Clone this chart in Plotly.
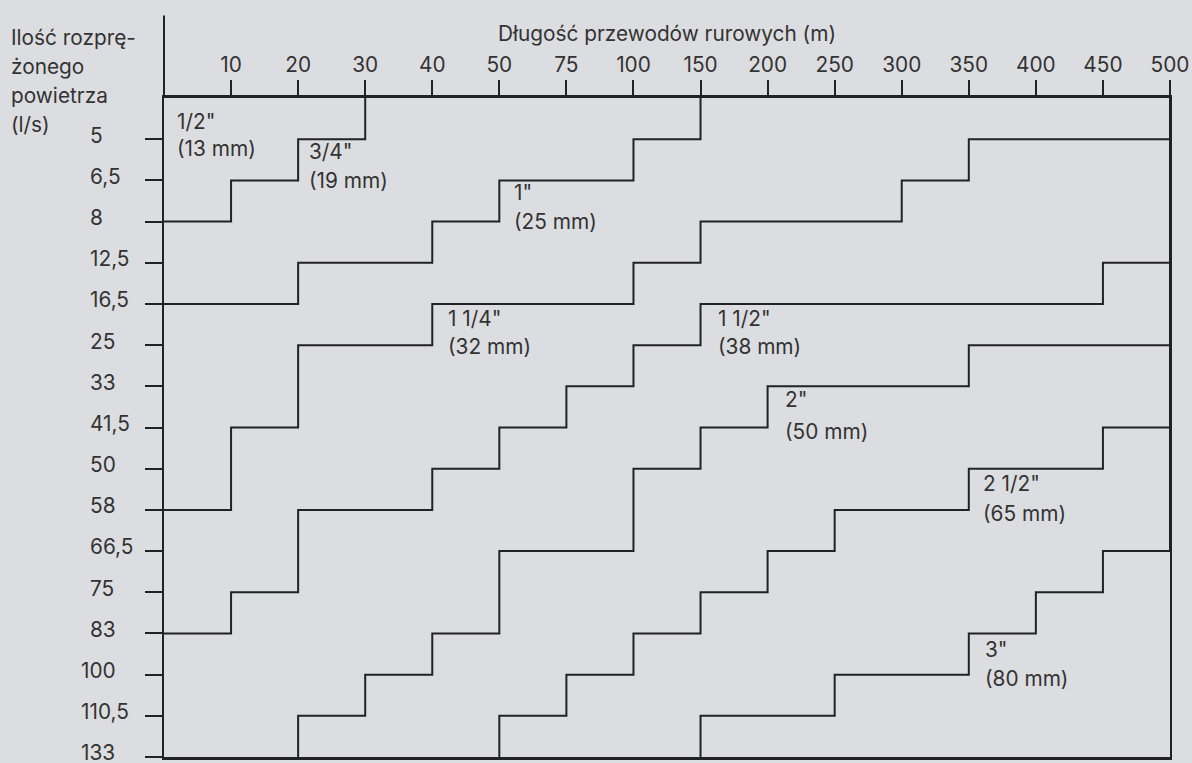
import plotly.graph_objects as go

# ---- data -------------------------------------------------------------
# pipe length axis (m) and expanded-air flow axis (l/s); "0" is the origin
lengths = ["10", "20", "30", "40", "50", "75", "100", "150", "200", "250",
           "300", "350", "400", "450", "500"]
flows = ["5", "6,5", "8", "12,5", "16,5", "25", "33", "41,5", "50", "58",
         "66,5", "75", "83", "100", "110,5", "133"]

# maximum pipe length (m) for each flow band (band i lies between flow row i and i+1)
limit_13mm = ["30", "20", "10"]
limit_19mm = ["150", "100", "50", "40", "20"]
limit_25mm = ["500", "350", "300", "150", "100", "40", "20", "20", "10", "10"]
limit_32mm = ["500", "500", "500", "500", "450", "150", "100", "75", "50", "40",
              "20", "20", "10"]
limit_38mm = ["500", "500", "500", "500", "500", "500", "350", "200", "150", "100",
              "100", "50", "50", "40", "30", "20"]
limit_50mm = ["500", "500", "500", "500", "500", "500", "500", "500", "450", "350",
              "250", "200", "150", "100", "75", "50"]
limit_65mm = ["500", "500", "500", "500", "500", "500", "500", "500", "500", "500",
              "500", "450", "400", "350", "250", "150"]

pipe_names = ['1/2"', '3/4"', '1"', '1 1/4"', '1 1/2"', '2"', '2 1/2"', '3"']
pipe_mm = ["(13 mm)", "(19 mm)", "(25 mm)", "(32 mm)", "(38 mm)", "(50 mm)",
           "(65 mm)", "(80 mm)"]

x_title = "Długość przewodów rurowych (m)"
y_title = ["Ilość rozprę-", "żonego", "powietrza", "(l/s)"]

# ---- style ------------------------------------------------------------
BG = "#dcdde0"
INK = "#222222"
TXT = "#333333"
FONT = "Inter"
FS = 20.8

xcats = ["0"] + lengths
ycats = ["0"] + flows

W, H = 1192, 763
L, R, T, B = 164, 20, 98, 3
pw, ph = W - L - R, H - T - B


def px2x(px):
    return (px - L) / pw * (len(xcats) - 1)


def py2y(py):
    return (py - T) / ph * (len(ycats) - 1)


def px2paper(px):
    return (px - L) / pw


def py2paper(py):
    return 1 - (py - T) / ph


def step_path(limits):
    xs, ys = [], []
    for i, lim in enumerate(limits):
        xs += [lim, lim]
        ys += [ycats[i], ycats[i + 1]]
    if len(limits) < len(flows):
        xs.append("0")
        ys.append(ycats[len(limits)])
    return xs, ys


fig = go.Figure()
for lim in [limit_13mm, limit_19mm, limit_25mm, limit_32mm, limit_38mm,
            limit_50mm, limit_65mm]:
    xs, ys = step_path(lim)
    fig.add_trace(go.Scatter(x=xs, y=ys, mode="lines",
                             line=dict(color=INK, width=2),
                             hoverinfo="skip", showlegend=False))

font = dict(family=FONT, size=FS, color=TXT)
ann = []
# pipe size labels (pixel-estimated placement)
label_pos = [(175, 122, 149), (307, 152, 181), (513, 193, 222), (447, 319, 348),
             (717, 319, 348), (784, 401, 433), (983, 485, 515), (985, 652, 681)]
for name, mm, (lx, y1, y2) in zip(pipe_names, pipe_mm, label_pos):
    ann.append(dict(x=px2x(lx), y=py2y(y1), text=name, xanchor="left",
                    yanchor="middle", showarrow=False, font=font))
    ann.append(dict(x=px2x(lx), y=py2y(y2), text=mm, xanchor="left",
                    yanchor="middle", showarrow=False, font=font))

# flow tick labels (left of the plot -> paper x, data y)
for i, f in enumerate(flows):
    whole = f.split(",")[0]
    lx = 79 if len(whole) >= 3 else 88
    ann.append(dict(xref="paper", x=px2paper(lx), y=i + 1 - 0.1, text=f,
                    xanchor="left", yanchor="middle", showarrow=False,
                    font=font))

# axis titles
ann.append(dict(xref="paper", yref="paper", x=0.5, y=py2paper(33),
                text=x_title, xanchor="center", yanchor="middle",
                showarrow=False, font=font))
for j, t in enumerate(y_title):
    ann.append(dict(xref="paper", yref="paper", x=px2paper(9),
                    y=py2paper(37 + 29.3 * j), text=t,
                    xanchor="left", yanchor="middle", showarrow=False,
                    font=font))

fig.update_layout(
    width=W, height=H,
    margin=dict(l=L, r=R, t=T, b=B, pad=0),
    paper_bgcolor=BG, plot_bgcolor=BG,
    annotations=ann,
    showlegend=False,
    xaxis=dict(type="category", categoryorder="array", categoryarray=xcats,
               range=[0, len(xcats) - 1], side="top",
               tickmode="array", tickvals=lengths, ticktext=lengths,
               ticks="outside", ticklen=15, tickwidth=2, tickcolor=INK,
               showline=True, linewidth=2.5, linecolor=INK, mirror=True,
               showgrid=False, zeroline=False,
               tickfont=font, fixedrange=True),
    yaxis=dict(type="category", categoryorder="array", categoryarray=ycats,
               range=[len(ycats) - 1, 0],
               tickmode="array", tickvals=flows, showticklabels=False,
               ticks="outside", ticklen=17, tickwidth=2, tickcolor=INK,
               showline=True, linewidth=2, linecolor=INK, mirror=True,
               showgrid=False, zeroline=False, fixedrange=True),
)

# left axis extension above the length scale
fig.add_shape(type="line", xref="paper", yref="paper", x0=0, x1=0,
              y0=1, y1=py2paper(15), line=dict(color=INK, width=2))

fig.write_html("out.html", config={"displayModeBar": False},
               post_script="document.body.style.margin='0';"
                           "document.body.style.background='" + BG + "';")
